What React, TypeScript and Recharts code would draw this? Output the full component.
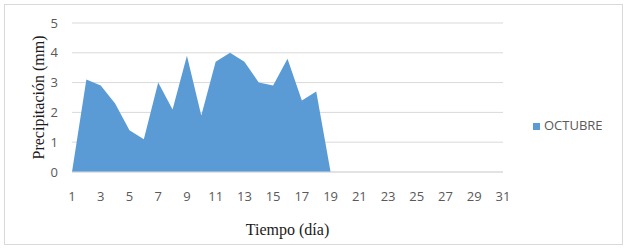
import { AreaChart, Area, XAxis, YAxis, CartesianGrid, Legend, Label } from "recharts";

const DAYS = Array.from({ length: 31 }, (_, i) => String(i + 1));
const OCTUBRE = [0, 3.1, 2.9, 2.3, 1.4, 1.1, 3.0, 2.1, 3.9, 1.9, 3.7, 4.0, 3.7, 3.0, 2.9, 3.8, 2.4, 2.7, 0, 0, 0, 0, 0, 0, 0, 0, 0, 0, 0, 0, 0];
const Y_TICKS = [0, 1, 2, 3, 4, 5];

const data = DAYS.map((d, i) => ({ dia: d, OCTUBRE: OCTUBRE[i] }));

const tickStyle = { fontSize: 13, fill: "#595959", fontFamily: "'Open Sans', sans-serif" };

export default function App() {
  return (
    <div style={{ position: "absolute", left: 0, top: 0, width: 627, height: 250, background: "#fff" }}>
      <div
        style={{
          position: "absolute",
          left: 4,
          top: 4,
          width: 619,
          height: 241,
          border: "1px solid #d9d9d9",
          boxSizing: "border-box",
        }}
      />
      {/* legend box (90px) is added to the right offset by recharts */}
      <AreaChart width={627} height={250} data={data} margin={{ top: 23, right: 34, bottom: 8, left: 10 }}>
        <CartesianGrid vertical={false} stroke="#d9d9d9" />
        <XAxis
          dataKey="dia"
          interval={1}
          tickLine={false}
          axisLine={{ stroke: "#d9d9d9" }}
          tick={tickStyle}
          tickMargin={14}
          height={70}
        >
          <Label
            value="Tiempo (día)"
            position="insideBottom"
            offset={7}
            style={{ fontSize: 16, fill: "#1a1a1a", fontFamily: "'Liberation Serif', serif" }}
          />
        </XAxis>
        <YAxis
          domain={[0, 5]}
          ticks={Y_TICKS}
          tickLine={false}
          axisLine={false}
          tick={tickStyle}
          tickMargin={8}
          width={62}
        >
          <Label
            value="Precipitación (mm)"
            angle={-90}
            position="insideLeft"
            offset={28}
            style={{ fontSize: 16, fill: "#1a1a1a", fontFamily: "'Liberation Serif', serif", textAnchor: "middle" }}
          />
        </YAxis>
        <Legend
          layout="vertical"
          align="right"
          verticalAlign="middle"
          iconType="square"
          iconSize={7}
          wrapperStyle={{ left: 533, top: 116, width: 90, right: "auto" }}
          formatter={(v) => (
            <span style={{ color: "#595959", fontSize: 13, fontFamily: "'Open Sans', sans-serif" }}>{v}</span>
          )}
        />
        <Area
          type="linear"
          dataKey="OCTUBRE"
          stroke="none"
          fill="#5b9bd5"
          fillOpacity={1}
          isAnimationActive={false}
        />
      </AreaChart>
    </div>
  );
}
